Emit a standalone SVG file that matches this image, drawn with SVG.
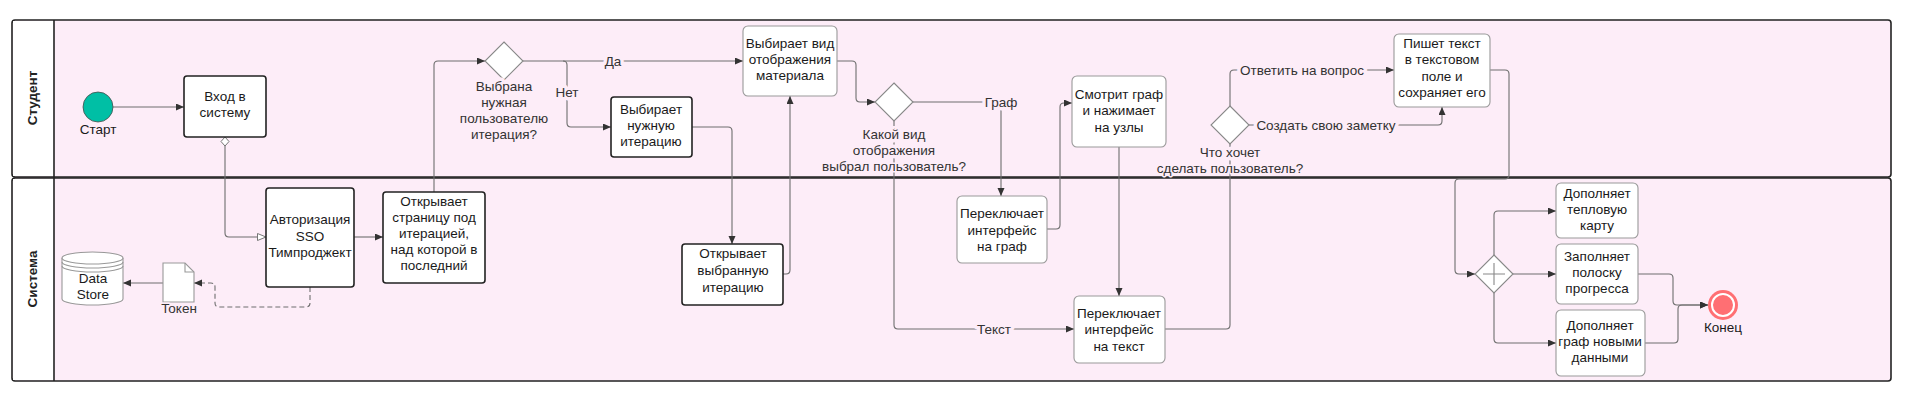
<svg xmlns="http://www.w3.org/2000/svg" width="1912" height="401" viewBox="0 0 1912 401">
<defs>
<style>
.lane{fill:#fdedf8;stroke:#222;stroke-width:1.6}
.hdr{fill:#fff;stroke:none}
.hd{font-family:"Liberation Sans",Arial,sans-serif;font-size:13.5px;font-weight:bold;fill:#222;text-anchor:middle}
.t{font-family:"Liberation Sans",Arial,sans-serif;font-size:13.5px;fill:#1a1a1a;text-anchor:middle}
.lb{font-family:"Liberation Sans",Arial,sans-serif;font-size:13.5px;fill:#333;text-anchor:middle;paint-order:stroke;stroke:#fdedf8;stroke-width:7px;stroke-linejoin:round}
.lbs{stroke-width:3px}
.bk{fill:#fff;stroke:#222;stroke-width:1.6}
.bt{fill:#fff;stroke:#999;stroke-width:1.1}
.gw{fill:#fff;stroke:#888;stroke-width:1.1}
.c{fill:none;stroke:#6e6e6e;stroke-width:1.1}
.ca{fill:none;stroke:#6e6e6e;stroke-width:1.1;marker-end:url(#arr)}
</style>
<marker id="arr" markerUnits="userSpaceOnUse" markerWidth="9" markerHeight="8" refX="8" refY="3.5" orient="auto"><path d="M0,0 L8,3.5 L0,7 z" fill="#333"/></marker>
<marker id="harr" markerUnits="userSpaceOnUse" markerWidth="11" markerHeight="9" refX="9" refY="4" orient="auto"><path d="M0.5,0.5 L9,4 L0.5,7.5 z" fill="#fff" stroke="#777" stroke-width="1"/></marker>
<marker id="dia" markerUnits="userSpaceOnUse" markerWidth="10" markerHeight="12" refX="0.5" refY="5" orient="auto"><path d="M0.5,5 L5,1 L9.5,5 L5,9 z" fill="#fff" stroke="#777" stroke-width="1"/></marker>
</defs>

<g id="pool">
<rect class="lane" x="12" y="20" width="1879" height="157" rx="3"/>
<rect class="lane" x="12" y="178" width="1879" height="203" rx="3"/>
<rect class="hdr" x="13" y="21" width="41" height="155"/>
<rect class="hdr" x="13" y="179" width="41" height="201"/>
<line x1="54" y1="20" x2="54" y2="381" stroke="#222" stroke-width="1.6"/>
<text class="hd" transform="translate(37,98) rotate(-90)">Студент</text>
<text class="hd" transform="translate(37,279) rotate(-90)">Система</text>
</g>

<g id="connectors">
<path class="ca" d="M113,107 H184"/>
<path class="c" d="M225,137 V233 Q225,237 229,237 H266" marker-start="url(#dia)" marker-end="url(#harr)"/>
<path class="ca" d="M354,237 H383"/>
<path class="ca" d="M310,287 V303 Q310,307 306,307 H219 Q215,307 215,303 V287 Q215,283 211,283 H194" stroke-dasharray="5,3"/>
<path class="ca" d="M163,283 H123"/>
<path class="ca" d="M434,192 V65 Q434,61 438,61 H485"/>
<path class="ca" d="M523,61 H743"/>
<path class="ca" d="M563,61 Q567,61 567,65 V123 Q567,127 571,127 H611"/>
<path class="ca" d="M692,127 H728 Q732,127 732,131 V244"/>
<path class="ca" d="M783,274 H786 Q790,274 790,270 V96"/>
<path class="ca" d="M837,61 H852 Q856,61 856,65 V98 Q856,102 860,102 H875"/>
<path class="ca" d="M913,102 H997 Q1001,102 1001,106 V196"/>
<path class="ca" d="M894,121 V325 Q894,329 898,329 H1074"/>
<path class="ca" d="M1047,229 H1056 Q1060,229 1060,225 V107 Q1060,103 1064,103 H1072"/>
<path class="ca" d="M1119,147 V296"/>
<path class="c" d="M1165,329 H1226 Q1230,329 1230,325 V144"/>
<path class="ca" d="M1230,106 V74 Q1230,70 1234,70 H1394"/>
<path class="ca" d="M1249,125 H1438 Q1442,125 1442,121 V107"/>
<path class="ca" d="M1490,70 H1505 Q1509,70 1509,74 V175 Q1509,179 1505,179 H1459 Q1455,179 1455,183 V270 Q1455,274 1459,274 H1475"/>
<path class="ca" d="M1494,255 V215 Q1494,211 1498,211 H1556"/>
<path class="ca" d="M1513,274 H1556"/>
<path class="ca" d="M1494,293 V339 Q1494,343 1498,343 H1556"/>
<path class="ca" d="M1638,274 H1669 Q1673,274 1673,278 V301 Q1673,305 1677,305 H1708"/>
<path class="ca" d="M1645,343 H1674 Q1678,343 1678,339 V309 Q1678,305 1682,305 H1708"/>
<text class="lb" x="613" y="66">Да</text>
<text class="lb" x="567" y="97">Нет</text>
<text class="lb" x="1001" y="107">Граф</text>
<text class="lb" x="994" y="334">Текст</text>
<text class="lb" x="1302" y="75">Ответить на вопрос</text>
<text class="lb" x="1326" y="130">Создать свою заметку</text>
</g>

<g id="start">
<circle cx="98" cy="107" r="15" fill="#00bfa5" stroke="#4a4a4a" stroke-width="0.8"/>
<text class="t" x="98" y="134">Старт</text>
</g>

<g id="login">
<rect class="bk" x="184" y="76" width="82" height="61" rx="3"/>
<text class="t" x="225" y="101">Вход в</text>
<text class="t" x="225" y="117">систему</text>
</g>

<g id="auth">
<rect class="bk" x="266" y="188" width="88" height="99" rx="3"/>
<text class="t" x="310" y="224">Авторизация</text>
<text class="t" x="310" y="241">SSO</text>
<text class="t" x="310" y="257">Тимпроджект</text>
</g>

<g id="datastore">
<path d="M62,258 V299 A30.5,6 0 0 0 123,299 V258" fill="#fff" stroke="#999" stroke-width="1.1"/>
<ellipse cx="92.5" cy="258" rx="30.5" ry="6" fill="#fff" stroke="#999" stroke-width="1.1"/>
<path d="M62,262 A30.5,6 0 0 0 123,262 M62,266 A30.5,6 0 0 0 123,266" fill="none" stroke="#999" stroke-width="1.1"/>
<text class="t" x="93" y="283">Data</text>
<text class="t" x="93" y="299">Store</text>
</g>

<g id="token">
<path d="M163,263 H185 L194,272 V302 H163 Z" fill="#fff" stroke="#999" stroke-width="1.1"/>
<path d="M185,263 V272 H194" fill="none" stroke="#999" stroke-width="1.1"/>
<text class="lb lbs" x="179" y="313">Токен</text>
</g>

<g id="open-page">
<rect class="bk" x="383" y="192" width="102" height="91" rx="3"/>
<text class="t" x="434" y="206">Открывает</text>
<text class="t" x="434" y="222">страницу под</text>
<text class="t" x="434" y="238">итерацией,</text>
<text class="t" x="434" y="254">над которой в</text>
<text class="t" x="434" y="270">последний</text>
</g>

<g id="gw-iteration">
<path class="gw" d="M504,42 L523,61 L504,80 L485,61 Z"/>
<text class="lb" x="504" y="91">Выбрана</text>
<text class="lb" x="504" y="107">нужная</text>
<text class="lb" x="504" y="123">пользователю</text>
<text class="lb" x="504" y="139">итерация?</text>
</g>

<g id="choose-iteration">
<rect class="bk" x="611" y="97" width="81" height="60" rx="3"/>
<text class="t" x="651" y="114">Выбирает</text>
<text class="t" x="651" y="130">нужную</text>
<text class="t" x="651" y="146">итерацию</text>
</g>

<g id="open-iteration">
<rect class="bk" x="682" y="244" width="101" height="61" rx="3"/>
<text class="t" x="733" y="258">Открывает</text>
<text class="t" x="733" y="275">выбранную</text>
<text class="t" x="733" y="292">итерацию</text>
</g>

<g id="choose-view">
<rect class="bt" x="743" y="26" width="94" height="70" rx="5"/>
<text class="t" x="790" y="48">Выбирает вид</text>
<text class="t" x="790" y="64">отображения</text>
<text class="t" x="790" y="80">материала</text>
</g>

<g id="gw-view">
<path class="gw" d="M894,83 L913,102 L894,121 L875,102 Z"/>
<text class="lb" x="894" y="139">Какой вид</text>
<text class="lb" x="894" y="155">отображения</text>
<text class="lb lbs" x="894" y="171">выбрал пользователь?</text>
</g>

<g id="switch-graph">
<rect class="bt" x="957" y="196" width="90" height="67" rx="5"/>
<text class="t" x="1002" y="218">Переключает</text>
<text class="t" x="1002" y="235">интерфейс</text>
<text class="t" x="1002" y="251">на граф</text>
</g>

<g id="view-graph">
<rect class="bt" x="1072" y="76" width="94" height="71" rx="5"/>
<text class="t" x="1119" y="99">Смотрит граф</text>
<text class="t" x="1119" y="115">и нажимает</text>
<text class="t" x="1119" y="132">на узлы</text>
</g>

<g id="switch-text">
<rect class="bt" x="1074" y="296" width="91" height="67" rx="5"/>
<text class="t" x="1119" y="318">Переключает</text>
<text class="t" x="1119" y="334">интерфейс</text>
<text class="t" x="1119" y="351">на текст</text>
</g>

<g id="gw-action">
<path class="gw" d="M1230,106 L1249,125 L1230,144 L1211,125 Z"/>
<text class="lb" x="1230" y="157">Что хочет</text>
<text class="lb lbs" x="1230" y="173">сделать пользователь?</text>
</g>

<g id="write-text">
<rect class="bt" x="1394" y="34" width="96" height="73" rx="5"/>
<text class="t" x="1442" y="48">Пишет текст</text>
<text class="t" x="1442" y="64">в текстовом</text>
<text class="t" x="1442" y="81">поле и</text>
<text class="t" x="1442" y="97">сохраняет его</text>
</g>

<g id="gw-parallel">
<path class="gw" d="M1494,255 L1513,274 L1494,293 L1475,274 Z"/>
<path d="M1494,263 V285 M1483,274 H1505" stroke="#888" stroke-width="1.1" fill="none"/>
</g>

<g id="heatmap">
<rect class="bt" x="1556" y="183" width="82" height="55" rx="5"/>
<text class="t" x="1597" y="198">Дополняет</text>
<text class="t" x="1597" y="214">тепловую</text>
<text class="t" x="1597" y="230">карту</text>
</g>

<g id="progress">
<rect class="bt" x="1556" y="244" width="82" height="60" rx="5"/>
<text class="t" x="1597" y="261">Заполняет</text>
<text class="t" x="1597" y="277">полоску</text>
<text class="t" x="1597" y="293">прогресса</text>
</g>

<g id="graph-data">
<rect class="bt" x="1556" y="310" width="89" height="66" rx="5"/>
<text class="t" x="1600" y="330">Дополняет</text>
<text class="t" x="1600" y="346">граф новыми</text>
<text class="t" x="1600" y="362">данными</text>
</g>

<g id="end">
<circle cx="1723" cy="305" r="15" fill="#ff6f73"/>
<circle cx="1723" cy="305" r="11" fill="#ff6f73" stroke="#fff" stroke-width="2"/>
<text class="t" x="1723" y="332">Конец</text>
</g>
</svg>
